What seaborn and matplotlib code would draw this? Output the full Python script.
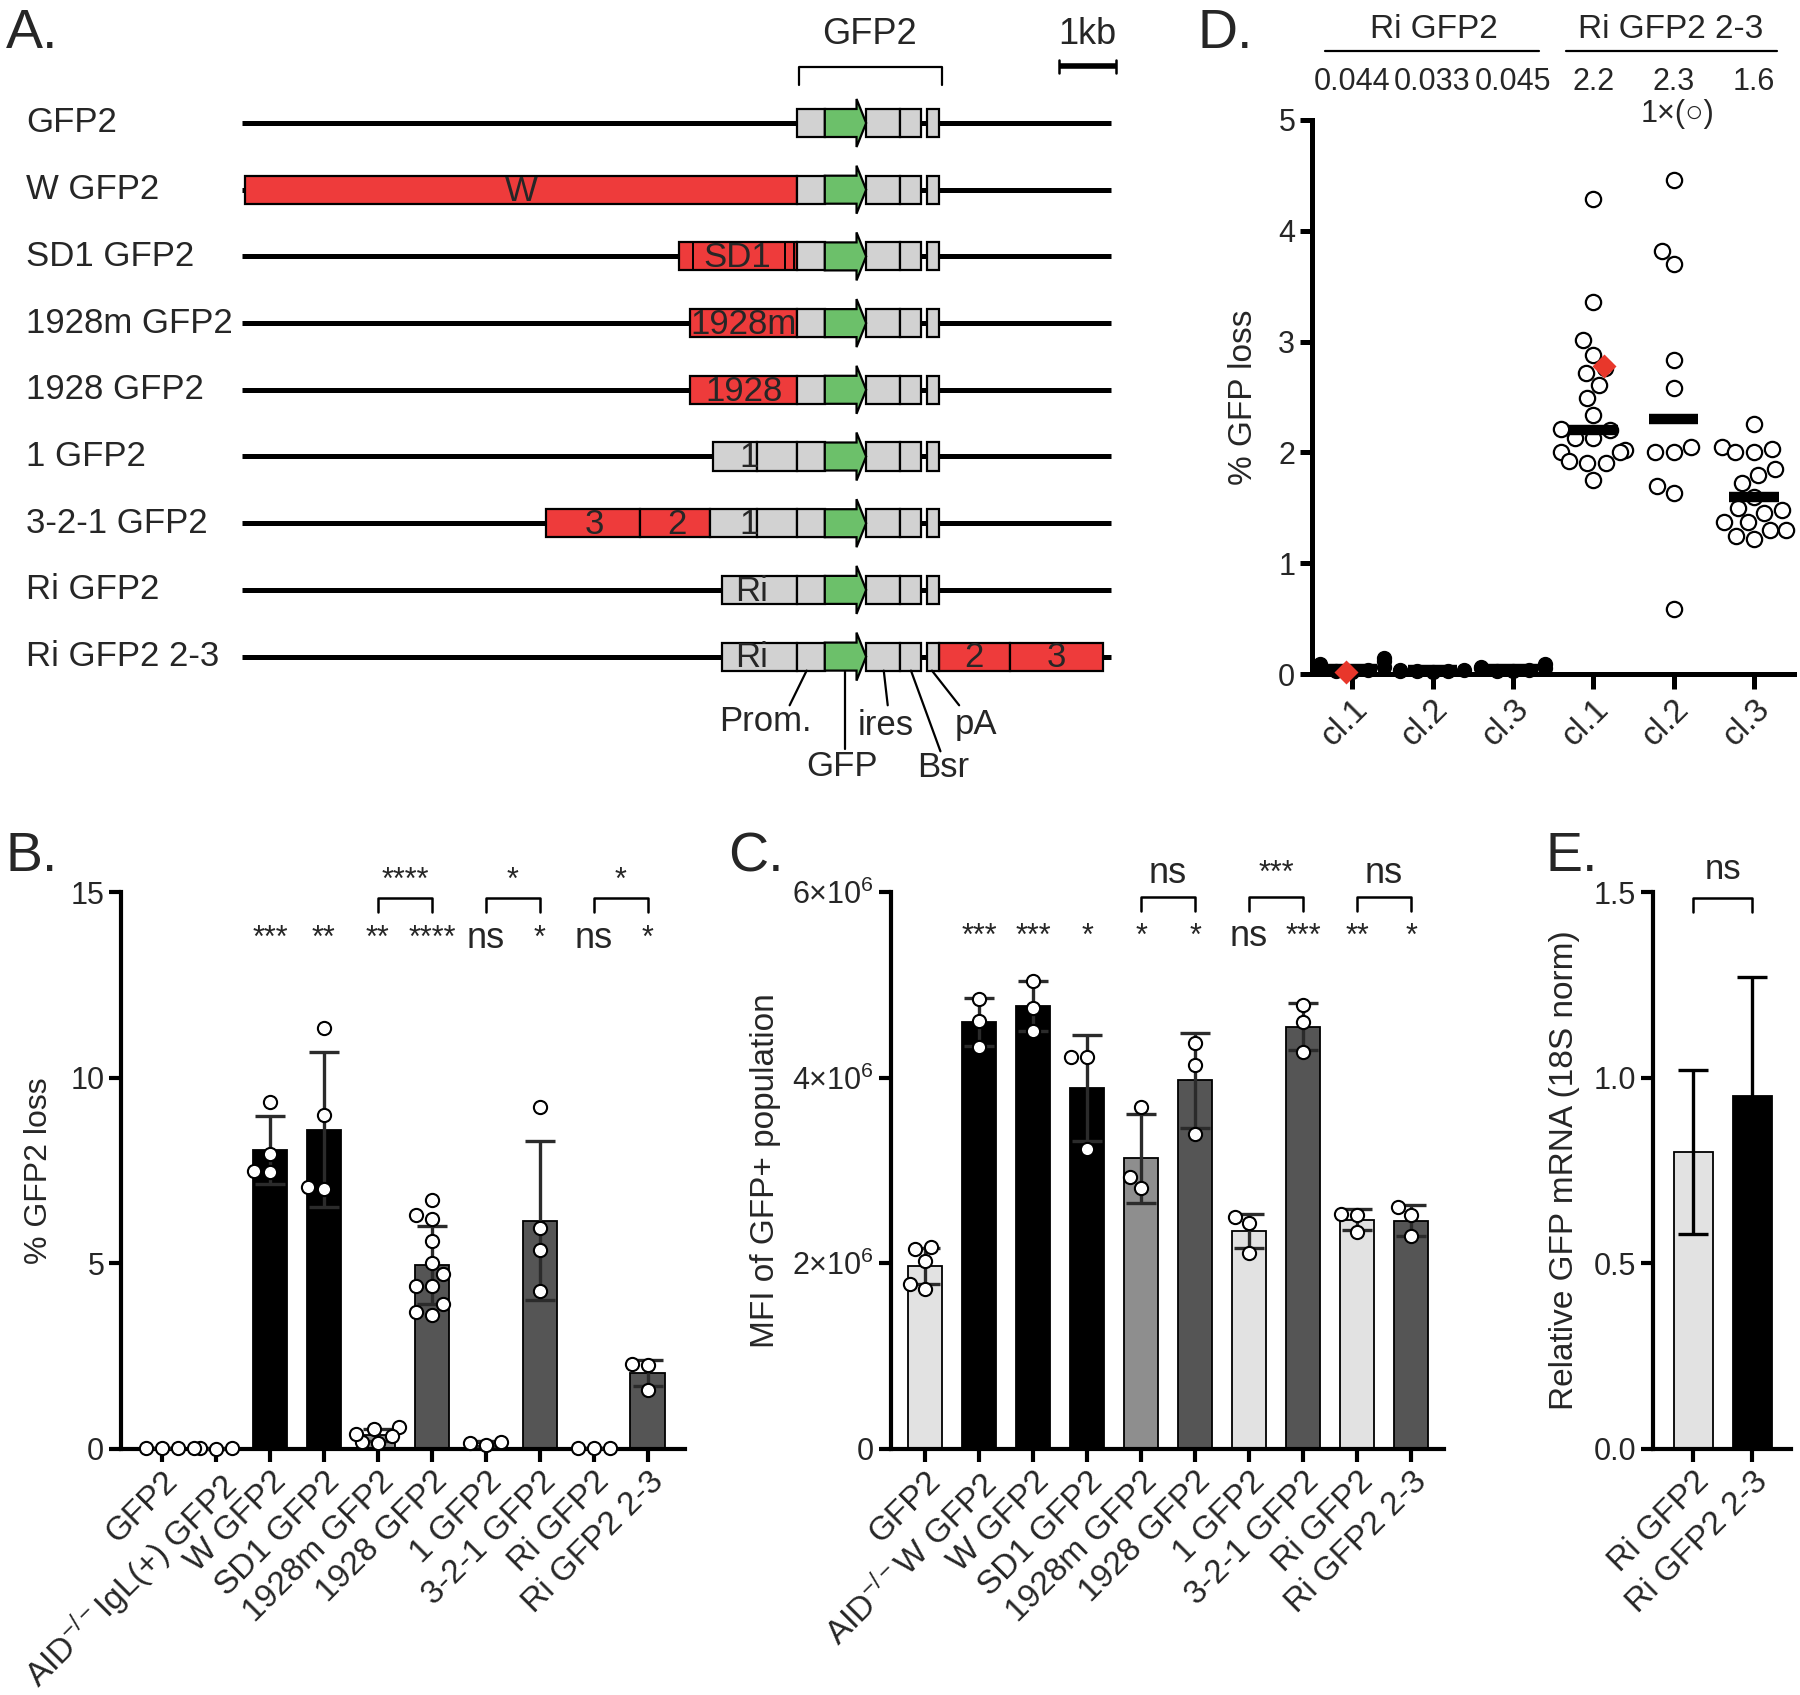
import numpy as np
import pandas as pd
import matplotlib
matplotlib.use("Agg")
import matplotlib.pyplot as plt
from matplotlib.patches import Rectangle, Polygon
import seaborn as sns

# ---------------- data ----------------
# Panel A: constructs (kb, relative to promoter start)
a_rows = ["GFP2", "W GFP2", "SD1 GFP2", "1928m GFP2", "1928 GFP2", "1 GFP2",
          "3-2-1 GFP2", "Ri GFP2", "Ri GFP2 2-3"]
a_backbone = (-9.79, 5.53)
a_cassette = [(0.0, 0.49), (1.22, 1.82), (1.82, 2.18), (2.29, 2.51)]   # prom, ires, Bsr, pA
a_gfp = (0.49, 1.05, 1.22)                                           # body start, head, tip
a_inserts = [
    [],
    [(-9.73, 0.0, "red", "W", -4.87)],
    [(-2.08, 0.0, "red", "SD1", -1.06)],
    [(-1.88, 0.0, "red", "1928m", -0.94)],
    [(-1.88, 0.0, "red", "1928", -0.94)],
    [(-1.48, -0.71, "grey", "1", -0.85), (-0.71, 0.0, "grey", "", 0)],
    [(-4.42, -2.77, "red", "3", -3.57), (-2.77, -1.53, "red", "2", -2.12),
     (-1.53, -0.71, "grey", "1", -0.85), (-0.71, 0.0, "grey", "", 0)],
    [(-1.33, 0.0, "grey", "Ri", -0.8)],
    [(-1.33, 0.0, "grey", "Ri", -0.8), (2.51, 3.76, "red", "2", 3.12), (3.76, 5.40, "red", "3", 4.58)],
]
a_sd1_marks = [-1.84, -0.22, -0.05]
a_parts = ["Prom.", "GFP", "ires", "Bsr", "pA"]
a_part_anchor = [0.17, 0.85, 1.53, 2.01, 2.38]
a_part_end = [(-0.13, 8.73), (0.85, 9.39), (1.60, 8.73), (2.53, 9.42), (2.86, 8.73)]
a_part_text = [(-0.55, 8.97), (0.79, 9.65), (1.57, 9.04), (2.57, 9.67), (3.16, 9.02)]

# Panel B: % GFP2 loss
b_labels = ["GFP2", "AID$^{-/-}$IgL(+) GFP2", "W GFP2", "SD1 GFP2", "1928m GFP2",
            "1928 GFP2", "1 GFP2", "3-2-1 GFP2", "Ri GFP2", "Ri GFP2 2-3"]
b_means = [0.03, 0.02, 8.05, 8.60, 0.37, 4.95, 0.15, 6.15, 0.03, 2.05]
b_sd = [0.01, 0.01, 0.92, 2.08, 0.16, 1.05, 0.06, 2.15, 0.01, 0.35]
b_points = [[0.03, 0.02, 0.04], [0.02, 0.02, 0.01, 0.02], [9.35, 7.95, 7.5, 7.45],
            [11.35, 9.0, 7.05, 7.0], [0.6, 0.55, 0.2, 0.15, 0.35, 0.4],
            [6.7, 6.3, 6.2, 5.6, 5.0, 4.7, 4.4, 4.4, 3.9, 3.7, 3.6],
            [0.1, 0.2, 0.15], [9.2, 5.95, 5.35, 4.25], [0.03, 0.02, 0.04], [2.3, 2.25, 1.6]]
b_sig = ["", "", "***", "**", "**", "****", "ns", "*", "ns", "*"]
b_pairs = [(4, 5, "****"), (6, 7, "*"), (8, 9, "*")]

# Panel C: MFI of GFP+ population
c_labels = ["GFP2", "AID$^{-/-}$W GFP2", "W GFP2", "SD1 GFP2", "1928m GFP2",
            "1928 GFP2", "1 GFP2", "3-2-1 GFP2", "Ri GFP2", "Ri GFP2 2-3"]
c_means = [1.97e6, 4.60e6, 4.77e6, 3.89e6, 3.13e6, 3.97e6, 2.35e6, 4.55e6, 2.47e6, 2.46e6]
c_sd = [0.19e6, 0.26e6, 0.27e6, 0.57e6, 0.48e6, 0.51e6, 0.18e6, 0.25e6, 0.11e6, 0.17e6]
c_points = [[2.18e6, 2.15e6, 2.02e6, 1.78e6, 1.72e6], [4.85e6, 4.61e6, 4.33e6],
            [5.04e6, 4.75e6, 4.50e6], [4.22e6, 4.22e6, 3.23e6], [3.68e6, 2.93e6, 2.81e6],
            [4.37e6, 4.14e6, 3.39e6], [2.50e6, 2.43e6, 2.11e6], [4.78e6, 4.60e6, 4.28e6],
            [2.53e6, 2.52e6, 2.34e6], [2.61e6, 2.52e6, 2.29e6]]
c_sig = ["", "***", "***", "*", "*", "*", "ns", "***", "**", "*"]
c_pairs = [(4, 5, "ns"), (6, 7, "***"), (8, 9, "ns")]

# Panel D: % GFP loss per clone
d_groups = ["Ri GFP2", "Ri GFP2", "Ri GFP2", "Ri GFP2 2-3", "Ri GFP2 2-3", "Ri GFP2 2-3"]
d_clones = ["cl.1", "cl.2", "cl.3", "cl.1", "cl.2", "cl.3"]
d_points = [
    [0.09, 0.12, 0.14, 0.06, 0.04, 0.03, 0.02, 0.05],
    [0.04, 0.03, 0.03, 0.02, 0.04, 0.03],
    [0.09, 0.05, 0.04, 0.03, 0.06, 0.05, 0.03],
    [4.29, 3.36, 3.01, 2.88, 2.76, 2.72, 2.61, 2.49, 2.34, 2.21, 2.2, 2.13, 2.13,
     2.02, 2.0, 2.0, 1.9, 1.9, 1.92, 1.75],
    [4.46, 3.82, 3.70, 2.83, 2.58, 2.05, 2.0, 2.0, 1.70, 1.63, 0.59],
    [2.26, 2.05, 2.0, 2.03, 2.0, 1.85, 1.8, 1.72, 1.6, 1.48, 1.5, 1.45, 1.37, 1.37,
     1.3, 1.3, 1.22, 1.25],
]
d_centers = [0.044, 0.033, 0.045, 2.2, 2.3, 1.6]
d_center_text = ["0.044", "0.033", "0.045", "2.2", "2.3", "1.6"]
d_red = [0.02, None, None, 2.78, None, None]

# Panel E: relative GFP mRNA
e_labels = ["Ri GFP2", "Ri GFP2 2-3"]
e_means = [0.80, 0.95]
e_sd = [0.22, 0.32]

# ---------------- style ----------------
sns.set_theme(style="ticks")
plt.rcParams['font.family'] = ['Liberation Sans', 'DejaVu Sans']
plt.rcParams['mathtext.fontset'] = 'custom'
plt.rcParams['mathtext.rm'] = 'Liberation Sans'
plt.rcParams['mathtext.it'] = 'Liberation Sans:italic'
plt.rcParams['mathtext.bf'] = 'Liberation Sans:bold'

RED, GREEN, GREY = "#ee3b3b", "#6cc06a", "#d2d2d2"
LIGHT, MID, DARK = "#e2e2e2", "#8e8e8e", "#555555"

W, H = 1800, 1695
fig = plt.figure(figsize=(W / 100, H / 100), dpi=100)


def rect(x0, y0, x1, y1):
    return [x0 / W, 1 - y1 / H, (x1 - x0) / W, (y1 - y0) / H]


def style_axis(ax, lw=3.0, fs=22):
    sns.despine(ax=ax)
    for s in ("left", "bottom"):
        ax.spines[s].set_linewidth(lw)
        ax.spines[s].set_color("black")
    ax.tick_params(axis='both', width=lw, length=9, direction='out', color='black',
                   labelsize=fs, pad=3)
    ax.set_facecolor("white")


# letters
for txt, x, y in [("A.", 6, 34), ("B.", 6, 857), ("C.", 728, 857), ("D.", 1197, 34), ("E.", 1545, 857)]:
    fig.text(x / W, 1 - y / H, txt, fontsize=40, va='center', ha='left')

# ---------------- Panel A ----------------
axA = fig.add_axes(rect(0, 0, 1150, 790))
axA.set_xlim((0 - 797) / 56.7, (1150 - 797) / 56.7)
axA.set_ylim(10.0, -1.844)
axA.axis('off')
bh, ah = 0.21, 0.36
colmap = {"red": RED, "grey": GREY}
for r, name in enumerate(a_rows):
    axA.text((26 - 797) / 56.7, r, name, fontsize=25, va='center', ha='left')
    axA.plot(a_backbone, [r, r], color='black', lw=3.6, solid_capstyle='butt', zorder=1)
    for (s, e, c, lab, lx) in a_inserts[r]:
        axA.add_patch(Rectangle((s, r - bh), e - s, 2 * bh, facecolor=colmap[c],
                                edgecolor='black', lw=1.6, zorder=2))
        if lab:
            axA.text(lx, r + 0.02, lab, fontsize=25, ha='center', va='center', zorder=4)
    if name == "SD1 GFP2":
        for m in a_sd1_marks:
            axA.plot([m, m], [r - bh, r + bh], color='black', lw=1.4, zorder=3)
    for (s, e) in a_cassette:
        axA.add_patch(Rectangle((s, r - bh), e - s, 2 * bh, facecolor=GREY,
                                edgecolor='black', lw=1.6, zorder=2))
    g0, g1, g2 = a_gfp
    axA.add_patch(Polygon([(g0, r - bh), (g1, r - bh), (g1, r - ah), (g2, r), (g1, r + ah),
                           (g1, r + bh), (g0, r + bh)], closed=True, facecolor=GREEN,
                          edgecolor='black', lw=1.6, zorder=3))
# part labels
for lab, x0, (x1, y1), (tx, ty) in zip(a_parts, a_part_anchor, a_part_end, a_part_text):
    axA.plot([x0, x1], [8 + bh, y1], color='black', lw=1.6)
    axA.text(tx, ty, lab, fontsize=25, ha='center', va='center')
# header bracket + scale bar
axA.plot([0.04, 0.04, 2.55, 2.55], [-0.575, -0.84, -0.84, -0.575], color='black', lw=1.6)
axA.text(1.27, -1.33, "GFP2", fontsize=26, ha='center', va='center')
axA.plot([4.62, 5.62], [-0.85, -0.85], color='black', lw=4, solid_capstyle='butt')
for xx in (4.62, 5.62):
    axA.plot([xx, xx], [-0.95, -0.75], color='black', lw=1.8)
axA.text(5.12, -1.33, "1kb", fontsize=26, ha='center', va='center')


# ---------------- bar panels B, C ----------------
def bar_panel(ax, labels, means, sd, points, colors, msize):
    df = pd.DataFrame({"construct": [l for l, p in zip(labels, points) for _ in p],
                       "value": [v for p in points for v in p]})
    sns.barplot(x=labels, y=means, hue=labels, order=labels, hue_order=labels,
                palette=colors, width=0.64, edgecolor='black', linewidth=1.3,
                errorbar=None, legend=False, ax=ax, zorder=2)
    ax.errorbar(np.arange(len(labels)), means, yerr=sd, fmt='none', ecolor='#2b2b2b',
                elinewidth=2.4, capsize=11, capthick=2.4, zorder=3, clip_on=False)
    sns.swarmplot(data=df, x="construct", y="value", order=labels, color='white',
                  edgecolor='black', linewidth=1.5, size=9.5, ax=ax, zorder=5)
    for c in ax.collections:
        c.set_clip_on(False)
    ax.set_xlabel("")


b_colors = [LIGHT, LIGHT, "black", "black", MID, DARK, LIGHT, DARK, LIGHT, DARK]
axB = fig.add_axes(rect(121, 892, 685, 1449))
bar_panel(axB, b_labels, b_means, b_sd, b_points, b_colors, 9.5)
axB.set_ylim(0, 15)
axB.set_xlim(-0.76, 9.69)
axB.set_yticks([0, 5, 10, 15])
axB.set_yticklabels(["0", "5", "10", "15"])
axB.set_ylabel("% GFP2 loss", fontsize=23, labelpad=12)
style_axis(axB, fs=22)
axB.set_xticks(range(len(b_labels)))
axB.set_xticklabels(b_labels, rotation=45, ha='right', rotation_mode='anchor', fontsize=24)
for i, s in enumerate(b_sig):
    if s:
        axB.text(i, 13.75, s, ha='center', va='center', fontsize=26 if s == "ns" else 22)
for i, j, s in b_pairs:
    axB.plot([i, i, j, j], [14.45, 14.84, 14.84, 14.45], color='black', lw=1.8, clip_on=False)
    axB.text((i + j) / 2, 15.3, s, ha='center', va='center', fontsize=22)

c_colors = [LIGHT, "black", "black", "black", MID, DARK, LIGHT, DARK, LIGHT, DARK]
axC = fig.add_axes(rect(891, 892, 1444, 1449))
bar_panel(axC, c_labels, c_means, c_sd, c_points, c_colors, 9.5)
axC.set_ylim(0, 6e6)
axC.set_xlim(-0.63, 9.61)
axC.set_yticks([0, 2e6, 4e6, 6e6])
axC.set_yticklabels(["0", "2×10$^{6}$", "4×10$^{6}$", "6×10$^{6}$"])
axC.set_ylabel("MFI of GFP+ population", fontsize=24, labelpad=8)
style_axis(axC, fs=22)
axC.set_xticks(range(len(c_labels)))
axC.set_xticklabels(c_labels, rotation=45, ha='right', rotation_mode='anchor', fontsize=24)
for i, s in enumerate(c_sig):
    if s:
        axC.text(i, 5.52e6, s, ha='center', va='center', fontsize=26 if s == "ns" else 22)
for i, j, s in c_pairs:
    axC.plot([i, i, j, j], [5.8e6, 5.95e6, 5.95e6, 5.8e6], color='black', lw=1.8, clip_on=False)
    axC.text((i + j) / 2, 6.2e6, s, ha='center', va='center', fontsize=26 if s == "ns" else 22)

# ---------------- Panel D ----------------
axD = fig.add_axes(rect(1312, 120, 1794, 674))
d_keys = [f"{g} {c}" for g, c in zip(d_groups, d_clones)]
dfD = pd.DataFrame({"key": [k for k, p in zip(d_keys, d_points) for _ in p],
                    "group": [g for g, p in zip(d_groups, d_points) for _ in p],
                    "value": [v for p in d_points for v in p]})
sns.swarmplot(data=dfD[dfD.group == "Ri GFP2"], x="key", y="value", order=d_keys,
              color='black', edgecolor='black', linewidth=1, size=10, ax=axD, zorder=4)
sns.swarmplot(data=dfD[dfD.group == "Ri GFP2 2-3"], x="key", y="value", order=d_keys,
              color='white', edgecolor='black', linewidth=1.6, size=11, ax=axD, zorder=4)
for i, m in enumerate(d_centers):
    axD.plot([i - 0.31, i + 0.31], [m, m], color='black', lw=7.5, solid_capstyle='butt',
             zorder=5, clip_on=False)
for i, v in enumerate(d_red):
    if v is not None:
        axD.plot(i + (0.13 if d_groups[i] == "Ri GFP2 2-3" else -0.08), v, marker='D',
                 color='#e8372b', ms=12, mec='none', zorder=6, clip_on=False)
for c in axD.collections:
    c.set_clip_on(False)
axD.set_xlim(-0.5, 5.5)
axD.set_ylim(0, 5)
axD.set_yticks(range(6))
axD.set_xlabel("")
axD.set_ylabel("% GFP loss", fontsize=24, labelpad=14)
style_axis(axD, lw=3.6, fs=22)
axD.tick_params(axis='x', length=11)
axD.set_xticks(range(6))
axD.set_xticklabels(d_clones, rotation=45, ha='right', rotation_mode='anchor', fontsize=24)
for i, t in enumerate(d_center_text):
    axD.text(i, 5.34, t, ha='center', va='center', fontsize=22)
axD.text(4.05, 5.05, "1×(○)", ha='center', va='center', fontsize=22)
for (x0, x1), (tx, lab) in zip([(-0.34, 2.32), (2.66, 5.29)], [(1.02, "Ri GFP2"), (3.97, "Ri GFP2 2-3")]):
    axD.plot([x0, x1], [5.62, 5.62], color='black', lw=1.6, clip_on=False)
    axD.text(tx, 5.82, lab, ha='center', va='center', fontsize=24)

# ---------------- Panel E ----------------
axE = fig.add_axes(rect(1653, 892, 1791, 1449))
sns.barplot(x=e_labels, y=e_means, hue=e_labels, order=e_labels, hue_order=e_labels,
            palette=[LIGHT, "black"], width=0.66, edgecolor='black', linewidth=1.3,
            errorbar=None, legend=False, ax=axE, zorder=2)
axE.errorbar(np.arange(2), e_means, yerr=e_sd, fmt='none', ecolor='black',
             elinewidth=2.4, capsize=11, capthick=2.4, zorder=3)
axE.set_ylim(0, 1.5)
axE.set_xlim(-0.68, 1.66)
axE.set_yticks([0, 0.5, 1.0, 1.5])
axE.set_yticklabels(["0.0", "0.5", "1.0", "1.5"])
axE.set_ylabel("Relative GFP mRNA (18S norm)", fontsize=24, labelpad=10)
style_axis(axE, fs=22)
axE.set_xticks([0, 1])
axE.set_xticklabels(e_labels, rotation=45, ha='right', rotation_mode='anchor', fontsize=24)
axE.plot([0, 0, 1, 1], [1.446, 1.484, 1.484, 1.446], color='black', lw=1.8, clip_on=False)
axE.text(0.5, 1.56, "ns", ha='center', va='center', fontsize=25)

fig.savefig("out.png", dpi=100, facecolor='white')
